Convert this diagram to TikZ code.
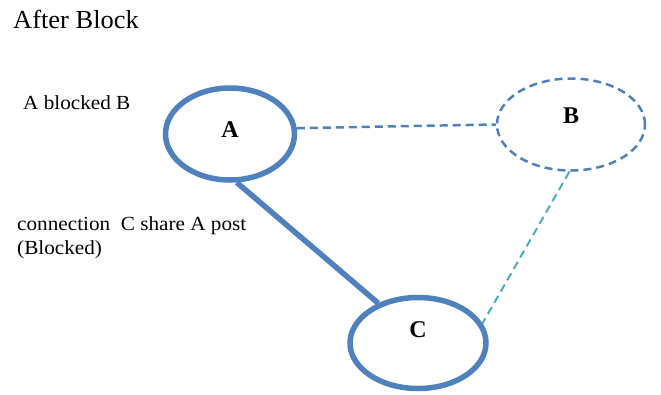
\documentclass[tikz,border=0pt]{standalone}
\usepackage{fontspec}
\setmainfont{Liberation Serif}
\usetikzlibrary{shapes.geometric}
\definecolor{acc}{HTML}{4F81BD}
\definecolor{acc2}{HTML}{4BACC6}
\tikzset{
  circA/.style={ellipse, draw=acc, line width=5.5pt, inner sep=0pt},
  circB/.style={ellipse, draw=acc, line width=2.5pt, dash pattern=on 8pt off 5pt, inner sep=0pt},
  letter/.style={font=\fontsize{24}{28}\selectfont\bfseries, inner sep=0pt},
  note/.style={font=\fontsize{20}{24}\selectfont, inner sep=0pt, anchor=base west, align=left, xscale=1.06},
}
\begin{document}
\begin{tikzpicture}[x=1pt,y=-1pt]
\useasboundingbox (0,0) rectangle (661,394);
\node[note, font=\fontsize{26}{30}\selectfont, xscale=0.96] (title) at (13,28) {After Block};
\node[note] (n1) at (23,109) {A blocked B};
\node[note] (n2) at (17,254) {connection\ \ C share A post\\(Blocked)};
\node[circA, minimum width=129pt, minimum height=92pt] (A) at (230,134) {};
\node[circB, minimum width=148pt, minimum height=92pt] (B) at (571,124.5) {};
\node[circA, minimum width=136pt, minimum height=91pt] (C) at (418,343) {};
\node[letter] (la) at (230,130) {A};
\node[letter] (lb) at (571,116) {B};
\node[letter] (lc) at (418,330) {C};
\draw[acc, line width=2.5pt, dash pattern=on 8pt off 5pt] (A.5) -- (B.west);
\draw[acc, line width=5.5pt] (A.-82) -- (C.135);
\draw[acc2, line width=2pt, dash pattern=on 8pt off 5pt] (B.-92) -- (C.17);
\end{tikzpicture}
\end{document}
